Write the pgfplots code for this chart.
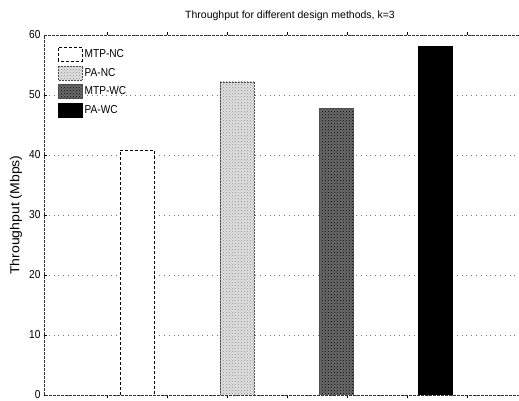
\documentclass[border=0pt]{standalone}
\usepackage{pgfplots}
\pgfplotsset{compat=1.18}
\usetikzlibrary{patterns}
\usepackage{fontspec}
\setmainfont{Liberation Sans}
\newfontfamily\narrowfont[FakeStretch=0.88]{Liberation Sans}
\newfontfamily\wideofont[FakeStretch=1.08]{Liberation Sans}
\begin{document}
\begin{tikzpicture}
\begin{axis}[
  scale only axis,
  width=492pt, height=360pt,
  xmin=44, xmax=536,
  ymin=0, ymax=60,
  ytick={0,10,20,30,40,50,60},
  xtick={107,167,227,287,347,407,467,527},
  xticklabels={},
  ymajorgrids,
  grid style={dash pattern=on 0.8pt off 4pt, black!55, line width=0.4pt},
  axis line style={dash pattern=on 3pt off 1pt, black!80, line width=0.5pt},
  tick style={black, line width=0.4pt},
  major tick length=3pt,
  tick align=inside,
  font=\narrowfont\fontsize{11.5}{12}\selectfont,
  /pgf/number format/assume math mode=true,
  title={Throughput for different design methods, k=3},
  title style={at={(axis description cs:0.5,1)}, anchor=south, yshift=5pt, font=\fontsize{10.5}{11}\selectfont},
  ylabel={Throughput (Mbps)},
  every axis y label/.style={at={(axis description cs:0,0.5)}, rotate=90, anchor=center, yshift=28pt, font=\wideofont\fontsize{13}{14}\selectfont},
  ybar, bar width=34, bar shift=0pt,
  legend style={at={(rel axis cs:0,1)}, anchor=north west, xshift=14pt, yshift=-12pt,
    draw=none, fill=none, inner sep=0pt, row sep=4pt,
    font=\narrowfont\fontsize{11.5}{12}\selectfont},
  legend cell align=left,
  legend image code/.code={\draw[#1] (0pt,-7pt) rectangle (24pt,7pt);},
]
\addplot[draw=black, densely dashed, fill=white, line width=0.5pt] coordinates {(137,40.8)};
\addplot[draw=black!70, densely dotted, fill=black!12, line width=0.5pt,
  postaction={pattern=crosshatch dots, pattern color=black!45}] coordinates {(237,52.2)};
\addplot[draw=black!70, fill=black!58, line width=0.5pt,
  postaction={pattern=crosshatch dots, pattern color=black}] coordinates {(336,47.8)};
\addplot[draw=black, fill=black, line width=0.5pt] coordinates {(435,58.2)};
\legend{MTP-NC,PA-NC,MTP-WC,PA-WC}
\end{axis}
\pgfresetboundingbox
\path[use as bounding box] ([xshift=-44pt,yshift=-6pt]current axis.south west) rectangle ([xshift=-17pt,yshift=35pt]current axis.north east);
\end{tikzpicture}
\end{document}
